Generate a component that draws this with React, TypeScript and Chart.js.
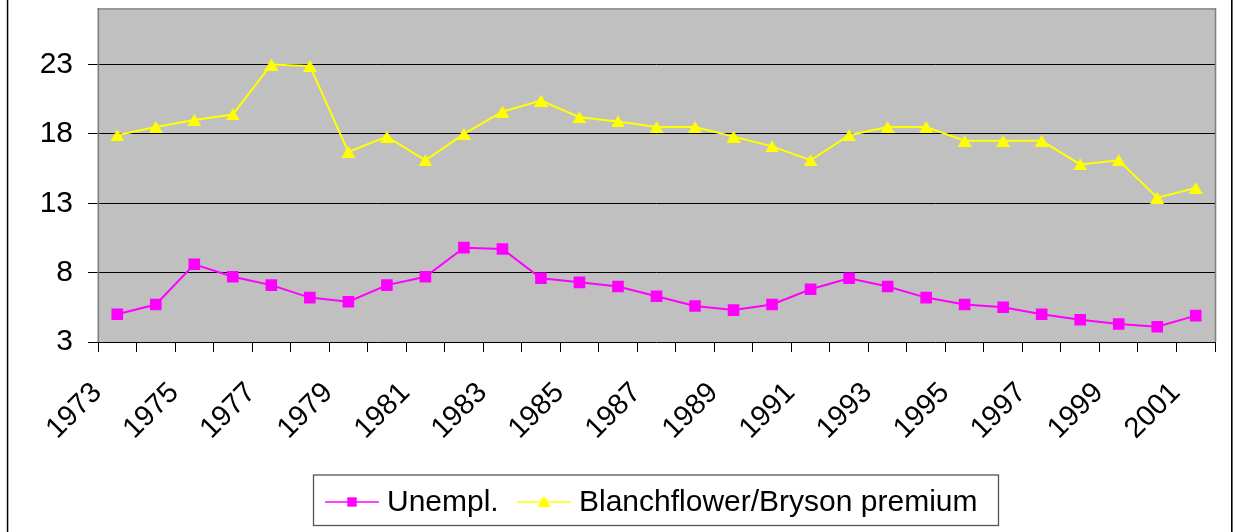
import React, { useEffect, useRef } from 'react';
import { Chart, registerables } from 'chart.js';

Chart.register(...registerables);

// ---- data ----
const years = [
  '1973', '1974', '1975', '1976', '1977', '1978', '1979', '1980', '1981', '1982',
  '1983', '1984', '1985', '1986', '1987', '1988', '1989', '1990', '1991', '1992',
  '1993', '1994', '1995', '1996', '1997', '1998', '1999', '2000', '2001',
];
const unemployment = [
  5.0, 5.7, 8.6, 7.7, 7.1, 6.2, 5.9, 7.1, 7.7, 9.8,
  9.7, 7.6, 7.3, 7.0, 6.3, 5.6, 5.3, 5.7, 6.8, 7.6,
  7.0, 6.2, 5.7, 5.5, 5.0, 4.6, 4.3, 4.1, 4.9,
];
const premium = [
  17.9, 18.5, 19.0, 19.4, 23.0, 22.9, 16.7, 17.8, 16.1, 18.0,
  19.6, 20.4, 19.2, 18.9, 18.5, 18.5, 17.8, 17.1, 16.1, 17.9,
  18.5, 18.5, 17.5, 17.5, 17.5, 15.8, 16.1, 13.4, 14.1,
];
const yTickValues = [3, 8, 13, 18, 23];
const yMin = 3;
const yMax = 27;
const seriesLabels = ['Unempl.', 'Blanchflower/Bryson premium'];

const FONT = "'Liberation Sans', Arial, Helvetica, sans-serif";
const MAGENTA = '#FF00FF';
const YELLOW = '#FFFF00';

function makeTriangle(w: number, h: number, color: string): HTMLCanvasElement {
  const c = document.createElement('canvas');
  c.width = w;
  c.height = h;
  const g = c.getContext('2d')!;
  g.fillStyle = color;
  g.beginPath();
  g.moveTo(w / 2, 0);
  g.lineTo(w, h);
  g.lineTo(0, h);
  g.closePath();
  g.fill();
  return c;
}

export default function App() {
  const ref = useRef<HTMLCanvasElement>(null);

  useEffect(() => {
    if (!ref.current) return;
    const tri = makeTriangle(14, 12, YELLOW);
    const triLegend = makeTriangle(13, 11, YELLOW);

    const plotBg = {
      id: 'plotBg',
      beforeDraw(chart: any) {
        const { ctx, chartArea: a } = chart;
        ctx.save();
        ctx.fillStyle = '#C0C0C0';
        ctx.fillRect(a.left, a.top, a.right - a.left, a.bottom - a.top);
        ctx.restore();
      },
    };

    const plotFrame = {
      id: 'plotFrame',
      beforeDatasetsDraw(chart: any) {
        const { ctx, chartArea: a } = chart;
        ctx.save();
        ctx.fillStyle = '#808080';
        ctx.fillRect(a.left - 0.5, a.top - 0.8, 1.6, a.bottom - a.top + 0.8);
        ctx.fillRect(a.left - 0.5, a.top - 0.8, a.right - a.left + 1.5, 1.4);
        ctx.fillRect(a.right - 0.3, a.top - 0.8, 1.6, a.bottom - a.top + 0.8);
        ctx.restore();
      },
    };

    const legendAndBorder = {
      id: 'legendAndBorder',
      afterDraw(chart: any) {
        const { ctx } = chart;
        ctx.save();
        // outer frame (left / right edges visible)
        ctx.fillStyle = '#000';
        ctx.fillRect(6.8, 0, 1.5, chart.height);
        ctx.fillRect(1231, 0, 1.6, chart.height);

        // legend box
        ctx.strokeStyle = '#555';
        ctx.lineWidth = 1.3;
        ctx.strokeRect(313.5, 475, 685, 50.5);

        const ly = 502;
        const items = [
          { x0: 325, x1: 379, tx: 387 },
          { x0: 517, x1: 571, tx: 579 },
        ];
        const dss = chart.data.datasets;
        items.forEach((it, i) => {
          const ds = dss[i];
          ctx.strokeStyle = ds.borderColor;
          ctx.lineWidth = 1.4;
          ctx.beginPath();
          ctx.moveTo(it.x0, ly);
          ctx.lineTo(it.x1, ly);
          ctx.stroke();
          const cx = (it.x0 + it.x1) / 2;
          if (i === 0) {
            ctx.fillStyle = ds.backgroundColor;
            ctx.fillRect(cx - 4.7, ly - 4.7, 9.4, 9.4);
          } else {
            ctx.drawImage(triLegend, cx - triLegend.width / 2, ly - 6.5);
          }
          ctx.fillStyle = '#000';
          ctx.font = `30px ${FONT}`;
          ctx.textAlign = 'left';
          ctx.textBaseline = 'alphabetic';
          ctx.fillText(ds.label, it.tx, 510.5);
        });
        ctx.restore();
      },
    };

    const chart = new Chart(ref.current, {
      type: 'line',
      data: {
        labels: years,
        datasets: [
          {
            label: seriesLabels[0],
            data: unemployment,
            borderColor: MAGENTA,
            backgroundColor: MAGENTA,
            borderWidth: 2,
            pointStyle: 'rect',
            pointRadius: 8.2,
            pointBorderWidth: 0,
            pointBackgroundColor: MAGENTA,
            pointBorderColor: MAGENTA,
            tension: 0,
          },
          {
            label: seriesLabels[1],
            data: premium,
            borderColor: YELLOW,
            backgroundColor: YELLOW,
            borderWidth: 2,
            pointStyle: tri as any,
            pointRadius: 7,
            tension: 0,
          },
        ],
      },
      options: {
        responsive: false,
        devicePixelRatio: 1,
        animation: false,
        events: [],
        layout: { padding: { left: 0, right: 20, top: 5, bottom: 0 } },
        plugins: {
          legend: { display: false },
          tooltip: { enabled: false },
          title: { display: false },
        },
        scales: {
          x: {
            type: 'category',
            offset: true,
            grid: {
              offset: true,
              drawOnChartArea: false,
              drawTicks: true,
              tickLength: 10,
              color: '#000',
              lineWidth: 1,
            },
            border: { display: false },
            ticks: {
              autoSkip: false,
              minRotation: 45,
              maxRotation: 45,
              padding: 24,
              labelOffset: -20,
              color: '#000',
              font: { family: FONT, size: 29 },
              callback: (_v: any, idx: number) => (idx % 2 === 0 ? years[idx] : ''),
            },
            afterFit: (scale: any) => {
              scale.height = 190;
              scale.paddingLeft = 0;
              scale.paddingRight = 0;
            },
          },
          y: {
            type: 'linear',
            min: yMin,
            max: yMax,
            grid: {
              drawOnChartArea: true,
              drawTicks: true,
              tickLength: 10,
              color: '#000',
              lineWidth: 1,
            },
            border: { display: false },
            ticks: {
              padding: 15,
              color: '#000',
              font: { family: FONT, size: 30 },
            },
            afterBuildTicks: (scale: any) => {
              scale.ticks = yTickValues.map((v) => ({ value: v }));
            },
            afterFit: (scale: any) => {
              scale.width = 98;
              scale.paddingTop = 0;
              scale.paddingBottom = 0;
            },
          },
        },
      },
      plugins: [plotBg, plotFrame, legendAndBorder],
    } as any);

    return () => chart.destroy();
  }, []);

  return (
    <div style={{ position: 'absolute', left: 0, top: 0, width: 1235, height: 532, background: '#fff' }}>
      <canvas ref={ref} width={1235} height={532} style={{ display: 'block', width: 1235, height: 532 }} />
    </div>
  );
}
